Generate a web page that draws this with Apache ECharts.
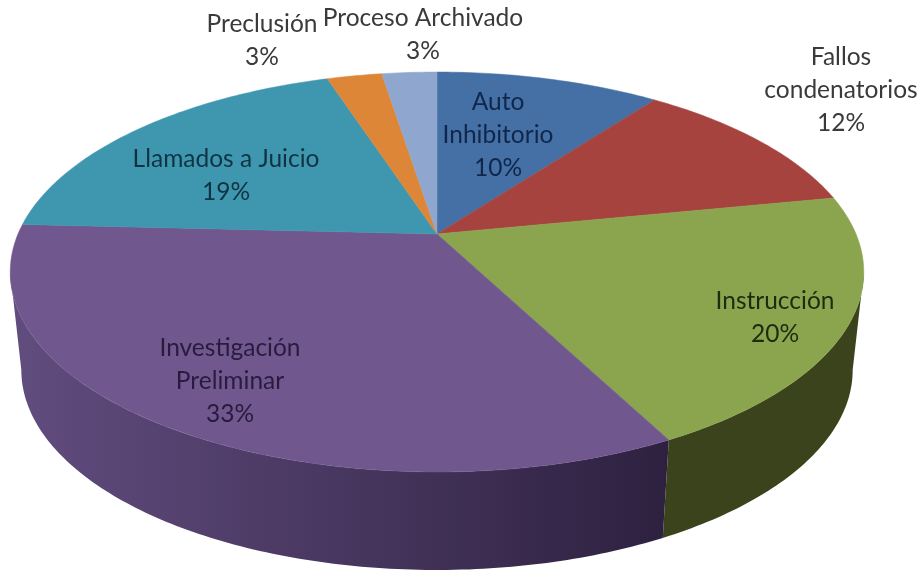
<!DOCTYPE html>
<html><head><meta charset="utf-8">
<script src="https://cdn.jsdelivr.net/npm/echarts@6/dist/echarts.min.js"></script>
<style>html,body{margin:0;padding:0;background:#fff}#c{width:923px;height:571px}</style>
</head><body><div id="c"></div>
<script>
// Data: shares (labels round them)
var categories = ['Auto\nInhibitorio','Fallos\ncondenatorios','Instrucción','Investigación\nPreliminar','Llamados a Juicio','Preclusión','Proceso Archivado'];
var values = [10.2, 11.7, 20.49, 33.4, 19.2, 2.5, 2.5];
// Styles and label anchors
var topColors = ['#4570a5','#a6433f','#8aa54e','#70588f','#3f97af','#dd8638','#8fa7cf'];
var wallStops = [['#2f4a70','#2f4a70'],['#6d2b29','#6d2b29'],['#3a431c','#3a431c'],['#614c7e','#2e2140'],['#2a6675','#2a6675'],['#8f5724','#8f5724'],['#5f708c','#5f708c']];
var textColors = ['#10264a','#3a3a3a','#1d2b10','#291b3e','#0f3342','#3a3a3a','#3a3a3a'];
var labelAt = [[498,135],[841,90],[775,318],[230,381],[226,176],[262,41],[423,35]];

var geom = {cx:437, cy:234, k:419, a:148.3, b:234, c:-0.19, depth:98, shrink:0.974};
function project(t){
  var u=Math.sin(t), v=-Math.cos(t), d=1+geom.c*v;
  return [geom.cx+geom.k*u/d, (geom.a*v+geom.b)/d];
}
function under(p){ return [geom.cx+(p[0]-geom.cx)*geom.shrink, p[1]+geom.depth]; }

var total = values.reduce(function(s,v){return s+v;},0);
var starts = []; values.reduce(function(s,v,i){starts[i]=s;return s+v;},0);
// the rim is visible between the two points where the projected outline is widest
var frontFrom = Math.acos(geom.c), frontTo = Math.PI*2-frontFrom;

function arcBetween(a0,a1){
  var n=Math.max(8,Math.round((a1-a0)*70)), pts=[];
  for(var j=0;j<=n;j++) pts.push(project(a0+(a1-a0)*j/n));
  return pts;
}
function angles(i){ return [starts[i]/total*Math.PI*2,(starts[i]+values[i])/total*Math.PI*2]; }
function renderWalls(params){
  var i=params.dataIndex, r=angles(i), a0=Math.max(r[0],frontFrom), a1=Math.min(r[1],frontTo);
  if(a1<=a0) return null;
  var pts=arcBetween(a0,a1), low=pts.map(under).reverse();
  return {type:'polygon',shape:{points:pts.concat(low)},style:{
    fill:new echarts.graphic.LinearGradient(20,0,664,0,[{offset:0,color:wallStops[i][0]},{offset:1,color:wallStops[i][1]}],true)}};
}
function renderTops(params){
  var i=params.dataIndex, r=angles(i), pts=arcBetween(r[0],r[1]);
  return {type:'polygon',shape:{points:[[geom.cx,geom.cy]].concat(pts)},style:{fill:topColors[i],stroke:topColors[i],lineWidth:0.5}};
}
function renderLabels(params){
  var i=params.dataIndex;
  return {type:'text',x:labelAt[i][0],y:labelAt[i][1],style:{
    text:categories[i]+'\n'+Math.round(values[i])+'%',align:'center',verticalAlign:'middle',
    font:'24.5px Lato, "Open Sans", sans-serif',lineHeight:33,fill:textColors[i]}};
}
var rows = values.map(function(v,i){return [i,v];});
var chart = echarts.init(document.getElementById('c'),null,{renderer:'canvas'});
chart.setOption({
  animation:false, backgroundColor:'#ffffff',
  series:[
    {type:'custom',coordinateSystem:'none',renderItem:renderWalls,data:rows,z:1,silent:true},
    {type:'custom',coordinateSystem:'none',renderItem:renderTops,data:rows,z:2,silent:true},
    {type:'custom',coordinateSystem:'none',renderItem:renderLabels,data:rows,z:3,silent:true}
  ]
});
</script></body></html>
